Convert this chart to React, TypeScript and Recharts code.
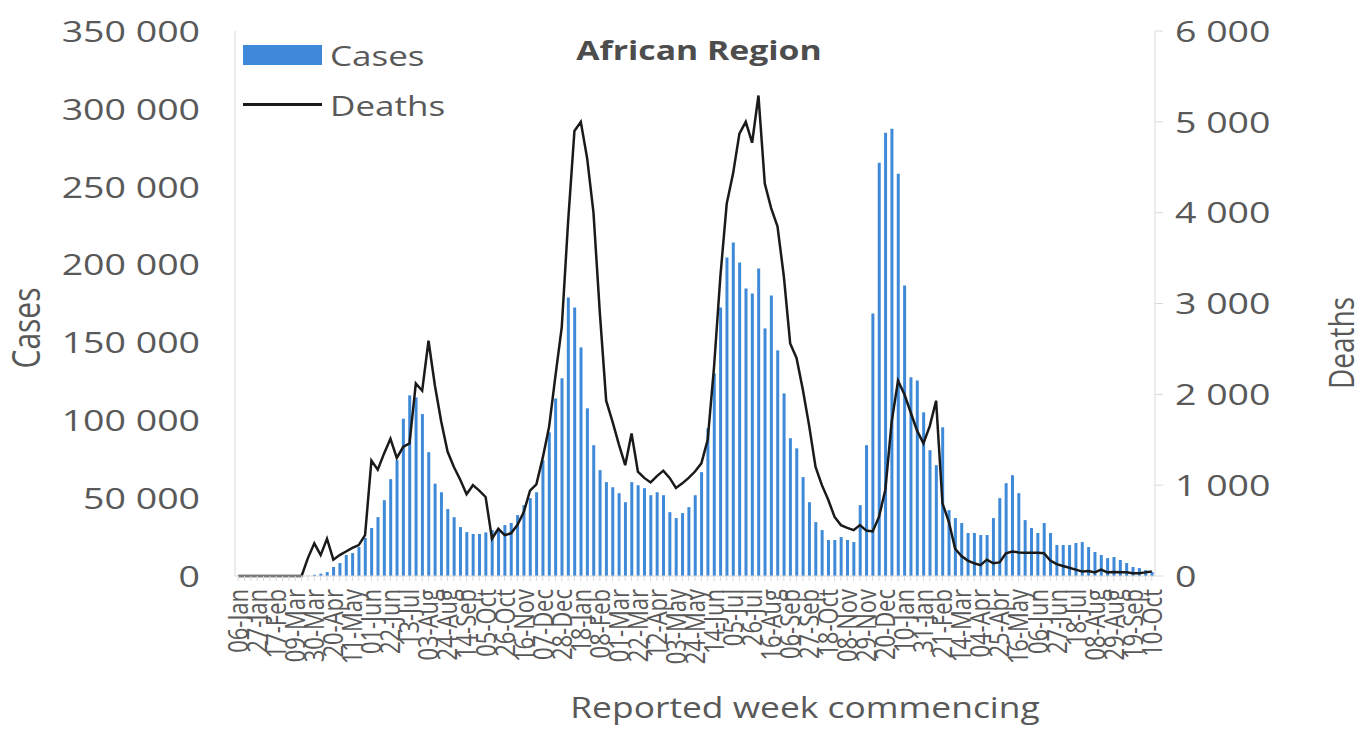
import React from "react";
import { Bar, ComposedChart, Line, XAxis, YAxis } from "recharts";

// weekly counts, week 0 = 06-Jan-2020, last = 10-Oct-2022
const cases = [
  0, 0, 0, 0, 0, 0, 0, 0, 0, 0,
  0, 200, 800, 1500, 2500, 5800, 8300, 13500, 14700, 18600,
  24400, 30800, 37800, 48700, 62200, 74400, 101000, 116000, 114700, 104000,
  79500, 59300, 53800, 43000, 37800, 31400, 28200, 27000, 27000, 28000,
  29500, 30800, 32700, 34000, 39100, 45500, 50000, 53800, 74400, 92300,
  114000, 127000, 178800, 172400, 146800, 107700, 84000, 68000, 60300, 57000,
  53200, 47400, 60300, 58300, 56400, 51900, 53800, 51900, 41000, 37200,
  40400, 44200, 51900, 66700, 94900, 130100, 172400, 204500, 214100, 201300,
  184600, 181400, 197400, 159000, 180100, 144900, 117300, 88500, 82000, 63500,
  47400, 34600, 29500, 23100, 23100, 25000, 23100, 21800, 45500, 84000,
  168600, 265400, 284600, 287200, 258300, 186500, 127600, 125600, 105100, 80800,
  71200, 95500, 42300, 37200, 34000, 27600, 27600, 26300, 26300, 37200,
  50000, 59600, 64700, 53200, 35900, 30800, 27600, 34000, 27600, 19900,
  19900, 19900, 21200, 21800, 18600, 15400, 13500, 11500, 12200, 10300,
  8300, 5800, 5100, 3800, 2600,
];

const deaths = [
  0, 0, 0, 0, 0, 0, 0, 0, 0, 0,
  0, 200, 360, 230, 410, 180, 230, 270, 310, 340,
  450, 1270, 1170, 1350, 1510, 1300, 1420, 1460, 2120, 2040,
  2590, 2100, 1700, 1370, 1200, 1060, 900, 1000, 940, 870,
  410, 520, 450, 470, 560, 700, 940, 1010, 1300, 1640,
  2200, 2740, 3900, 4900, 5000, 4600, 4000, 2900, 1930, 1700,
  1450, 1220, 1570, 1150, 1080, 1030, 1100, 1160, 1080, 970,
  1020, 1080, 1150, 1240, 1500, 2300, 3300, 4100, 4430, 4870,
  5000, 4770, 5290, 4320, 4050, 3850, 3300, 2560, 2400, 2050,
  1650, 1200, 1000, 840, 650, 560, 530, 505, 560, 500,
  490, 650, 950, 1700, 2150, 2000, 1800, 1600, 1460, 1650,
  1930, 800, 600, 300, 220, 170, 140, 120, 180, 140,
  150, 250, 270, 260, 255, 255, 255, 250, 170, 130,
  110, 90, 70, 50, 55, 40, 70, 40, 45, 40,
  40, 30, 30, 40, 50,
];

// one label every third week
const tickLabels = [
  "06-Jan", "27-Jan", "17-Feb", "09-Mar", "30-Mar", "20-Apr", "11-May", "01-Jun",
  "22-Jun", "13-Jul", "03-Aug", "24-Aug", "14-Sep", "05-Oct", "26-Oct", "16-Nov",
  "07-Dec", "28-Dec", "18-Jan", "08-Feb", "01-Mar", "22-Mar", "12-Apr", "03-May",
  "24-May", "14-Jun", "05-Jul", "26-Jul", "16-Aug", "06-Sep", "27-Sep", "18-Oct",
  "08-Nov", "29-Nov", "20-Dec", "10-Jan", "31-Jan", "21-Feb", "14-Mar", "04-Apr",
  "25-Apr", "16-May", "06-Jun", "27-Jun", "18-Jul", "08-Aug", "29-Aug", "19-Sep",
  "10-Oct",
];

const casesTicks = [0, 50000, 100000, 150000, 200000, 250000, 300000, 350000];
const deathsTicks = [0, 1000, 2000, 3000, 4000, 5000, 6000];

const data = cases.map((c, i) => ({ week: i, cases: c, deaths: deaths[i] }));

const FONT = "'Open Sans', sans-serif";
const GREY = "#595959";
const AXIS = "#d9d9d9";
const BLUE = "#3f8ad8";
const STRETCH = 1.25;

const fmt = (v: number) => String(v).replace(/\B(?=(\d{3})+(?!\d))/g, " ");

const WeekTick = (props: any) => {
  const { x, y, payload } = props;
  const w = Number(payload.value);
  if (w % 3 !== 0) return <g />;
  return (
    <g transform={`translate(${x},${y}) scale(${STRETCH},1)`}>
      <text transform="rotate(-90)" textAnchor="end" dy="0.36em" fontSize={22} fontFamily={FONT} fill={GREY}>
        {tickLabels[w / 3]}
      </text>
    </g>
  );
};

const ValueTick = (props: any) => {
  const { x, y, payload, anchor } = props;
  return (
    <g transform={`translate(${x},${y}) scale(${STRETCH},1)`}>
      <text textAnchor={anchor} dy="0.36em" fontSize={30} fontFamily={FONT} fill={GREY}>
        {fmt(payload.value)}
      </text>
    </g>
  );
};

const txt: React.CSSProperties = {
  position: "absolute",
  fontFamily: FONT,
  color: GREY,
  whiteSpace: "nowrap",
};

export default function App() {
  return (
    <div style={{ position: "absolute", left: 0, top: 0, width: 1364, height: 731, background: "#fff", overflow: "hidden" }}>
      <ComposedChart
        width={1364}
        height={731}
        data={data}
        margin={{ top: 31, right: 59, bottom: 0, left: 0 }}
        barCategoryGap="30%"
      >
        <XAxis
          dataKey="week"
          interval={0}
          height={155}
          tickSize={5}
          tickMargin={8}
          stroke={AXIS}
          tick={<WeekTick />}
        />
        <YAxis
          yAxisId="left"
          width={235}
          domain={[0, 350000]}
          ticks={casesTicks}
          tickLine={false}
          tickSize={6}
          tickMargin={29}
          stroke={AXIS}
          tick={<ValueTick anchor="end" />}
        />
        <YAxis
          yAxisId="right"
          orientation="right"
          width={150}
          domain={[0, 6000]}
          ticks={deathsTicks}
          tickSize={8}
          tickMargin={12}
          stroke={AXIS}
          tick={<ValueTick anchor="start" />}
        />
        <Bar yAxisId="left" dataKey="cases" fill={BLUE} isAnimationActive={false} />
        <Line
          yAxisId="right"
          dataKey="deaths"
          type="linear"
          stroke="#1a1a1a"
          strokeWidth={2.5}
          dot={false}
          isAnimationActive={false}
        />
      </ComposedChart>

      {/* legend */}
      <div style={{ position: "absolute", left: 243, top: 45, width: 79, height: 20, background: BLUE }} />
      <div style={{ position: "absolute", left: 243, top: 103, width: 79, height: 3, background: "#1a1a1a" }} />
      <div style={{ ...txt, left: 330, top: 40, fontSize: 28, lineHeight: "30px", transform: `scaleX(${STRETCH})`, transformOrigin: "left center" }}>
        Cases
      </div>
      <div style={{ ...txt, left: 330, top: 90, fontSize: 28, lineHeight: "30px", transform: `scaleX(${STRETCH})`, transformOrigin: "left center" }}>
        Deaths
      </div>

      {/* title */}
      <div style={{ ...txt, left: 699, top: 35, fontSize: 27, lineHeight: "30px", fontWeight: 700, color: "#4d4d4d", transform: `translateX(-50%) scaleX(${STRETCH})` }}>
        African Region
      </div>

      {/* axis titles */}
      <div style={{ ...txt, left: 26, top: 328, fontSize: 30, lineHeight: "32px", transform: `translate(-50%,-50%) scaleX(${STRETCH}) rotate(-90deg)` }}>
        Cases
      </div>
      <div style={{ ...txt, left: 1340, top: 343, fontSize: 28, lineHeight: "32px", transform: `translate(-50%,-50%) scaleX(${STRETCH}) rotate(-90deg)` }}>
        Deaths
      </div>
      <div style={{ ...txt, left: 805, top: 691, fontSize: 29, lineHeight: "32px", transform: `translateX(-50%) scaleX(1.22)` }}>
        Reported week commencing
      </div>
    </div>
  );
}
